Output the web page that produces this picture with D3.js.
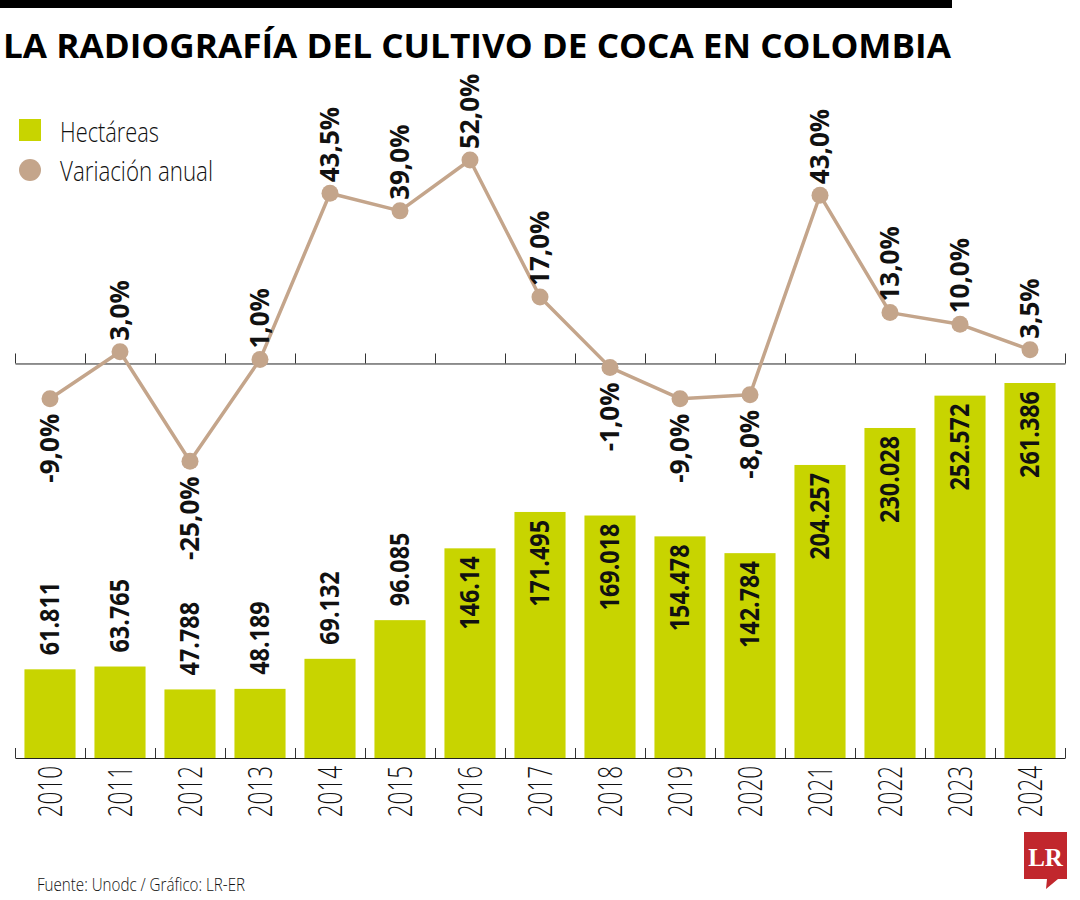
<!DOCTYPE html>
<html>
<head>
<meta charset="utf-8">
<script src="https://cdn.jsdelivr.net/npm/d3@7"></script>
<style>
  body { margin: 0; background: #fff; }
  svg { display: block; }
</style>
</head>
<body>
<svg id="chart"></svg>
<script>
  // datos
  const years = ['2010', '2011', '2012', '2013', '2014', '2015', '2016', '2017', '2018', '2019', '2020', '2021', '2022', '2023', '2024'];
  const hectares = [61811, 63765, 47788, 48189, 69132, 96085, 146140, 171495, 169018, 154478, 142784, 204257, 230028, 252572, 261386];
  const hectareLabels = ['61.811', '63.765', '47.788', '48.189', '69.132', '96.085', '146.14', '171.495', '169.018', '154.478', '142.784', '204.257', '230.028', '252.572', '261.386'];
  const variation = [-9, 3, -25, 1, 43.5, 39, 52, 17, -1, -9, -8, 43, 13, 10, 3.5];

  const GREEN = '#c8d400';
  const TAN = '#c4a58b';
  const INK = '#111';

  const W = 1080, H = 900;
  const svg = d3.select('#chart').attr('width', W).attr('height', H);

  // franja negra superior + titulo
  svg.append('rect').attr('x', 0).attr('y', 0).attr('width', 952).attr('height', 8).attr('fill', '#000');
  svg.append('text')
    .attr('x', 3).attr('y', 58)
    .attr('font-family', 'Open Sans, sans-serif')
    .attr('font-weight', 700)
    .attr('font-size', 34)
    .attr('textLength', 948)
    .attr('lengthAdjust', 'spacingAndGlyphs')
    .attr('fill', '#000')
    .text('LA RADIOGRAFÍA DEL CULTIVO DE COCA EN COLOMBIA');

  // leyenda
  const legend = svg.append('g');
  legend.append('rect').attr('x', 19).attr('y', 119).attr('width', 22).attr('height', 22).attr('fill', GREEN);
  legend.append('circle').attr('cx', 30).attr('cy', 170).attr('r', 11).attr('fill', TAN);
  legend.append('text').attr('x', 60).attr('y', 142).text('Hectáreas')
    .attr('textLength', 99);
  legend.append('text').attr('x', 60).attr('y', 181).text('Variación anual')
    .attr('textLength', 153);
  legend.selectAll('text')
    .attr('font-family', 'Open Sans, sans-serif')
    .attr('font-weight', 300)
    .attr('font-size', 27)
    .attr('lengthAdjust', 'spacingAndGlyphs')
    .attr('fill', INK);

  // escalas
  const x = d3.scaleBand().domain(years).range([15, 1065]).paddingInner(0.27).paddingOuter(0.135);
  const xIdx = d3.scaleLinear().domain([0, years.length]).range([15, 1065]);
  const yBar = d3.scaleLinear().domain([0, 261386]).range([758, 383]);
  const yVar = d3.scaleLinear().domain([-25, 52]).range([461.3, 160]);
  const cx = d => x(d) + x.bandwidth() / 2;

  // barras
  svg.append('g').selectAll('rect')
    .data(years)
    .enter().append('rect')
    .attr('x', d => x(d))
    .attr('width', x.bandwidth())
    .attr('y', (d, i) => yBar(hectares[i]))
    .attr('height', (d, i) => yBar(0) - yBar(hectares[i]))
    .attr('fill', GREEN);

  // etiquetas de barras (dentro si la barra es alta)
  svg.append('g').selectAll('text')
    .data(years)
    .enter().append('text')
    .attr('transform', function (d, i) {
      const top = yBar(hectares[i]);
      const yy = hectares[i] > 140000 ? top + 8 : top - 14;
      return 'translate(' + cx(d) + ',' + yy + ') rotate(-90) scale(0.9,1)';
    })
    .attr('text-anchor', (d, i) => hectares[i] > 140000 ? 'end' : 'start')
    .attr('dy', '0.36em')
    .attr('font-family', 'Open Sans, sans-serif')
    .attr('font-weight', 700)
    .attr('font-size', 26)
    .attr('fill', INK)
    .text((d, i) => hectareLabels[i]);

  // ejes con ticks en los limites de cada categoria
  function boundaryAxis (yPos) {
    svg.append('g')
      .attr('transform', 'translate(0,' + yPos + ')')
      .call(d3.axisTop(xIdx)
        .tickValues(d3.range(years.length + 1))
        .tickSize(10)
        .tickSizeOuter(0)
        .tickFormat(''))
      .call(g => g.selectAll('line').attr('stroke', '#333'))
      .call(g => g.select('.domain').attr('stroke', '#222'));
  }
  boundaryAxis(758);
  boundaryAxis(yVar(0));

  // anios
  svg.append('g').selectAll('text')
    .data(years)
    .enter().append('text')
    .attr('transform', d => 'translate(' + cx(d) + ',766) rotate(-90) scale(0.68,1)')
    .attr('text-anchor', 'end')
    .attr('dy', '0.36em')
    .attr('font-family', 'Open Sans, sans-serif')
    .attr('font-weight', 300)
    .attr('font-size', 33)
    .attr('fill', INK)
    .text(d => d);

  // linea de variacion anual
  const line = d3.line()
    .x(d => cx(d))
    .y((d, i) => yVar(variation[i]));

  svg.append('path')
    .datum(years)
    .attr('d', line)
    .attr('fill', 'none')
    .attr('stroke', TAN)
    .attr('stroke-width', 3.5)
    .attr('stroke-linejoin', 'round');

  svg.append('g').selectAll('circle')
    .data(years)
    .enter().append('circle')
    .attr('cx', d => cx(d))
    .attr('cy', (d, i) => yVar(variation[i]))
    .attr('r', 8.5)
    .attr('fill', TAN);

  svg.append('g').selectAll('text')
    .data(years)
    .enter().append('text')
    .attr('transform', function (d, i) {
      const v = variation[i];
      const yy = v >= 0 ? yVar(v) - 11 : yVar(v) + 15;
      return 'translate(' + cx(d) + ',' + yy + ') rotate(-90)';
    })
    .attr('text-anchor', (d, i) => variation[i] >= 0 ? 'start' : 'end')
    .attr('dy', '0.36em')
    .attr('font-family', 'Open Sans, sans-serif')
    .attr('font-weight', 700)
    .attr('font-size', 26)
    .attr('fill', INK)
    .text((d, i) => variation[i].toFixed(1).replace('.', ',') + '%');

  // fuente
  svg.append('text')
    .attr('x', 37).attr('y', 891)
    .attr('font-family', 'Open Sans, sans-serif')
    .attr('font-weight', 300)
    .attr('font-size', 19)
    .attr('textLength', 208)
    .attr('lengthAdjust', 'spacingAndGlyphs')
    .attr('fill', INK)
    .text('Fuente: Unodc / Gráfico: LR-ER');

  // logo LR
  const logo = svg.append('g');
  logo.append('path')
    .attr('d', 'M1024,832 H1067 V879 H1058 L1046,889 L1047,879 H1024 Z')
    .attr('fill', '#c1272d');
  logo.append('text')
    .attr('x', 1045.5).attr('y', 866)
    .attr('text-anchor', 'middle')
    .attr('font-family', 'Liberation Serif, DejaVu Serif, serif')
    .attr('font-weight', 700)
    .attr('font-size', 25)
    .attr('fill', '#fff')
    .text('LR');
</script>
</body>
</html>
